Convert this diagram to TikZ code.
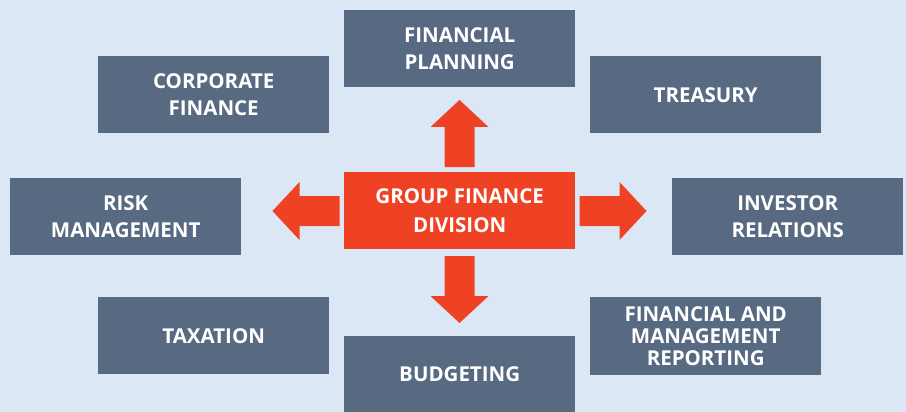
\documentclass[tikz,border=0pt]{standalone}
\usepackage{fontspec}
\setmainfont{Open Sans}
\definecolor{bgc}{RGB}{220,231,246}
\definecolor{boxc}{RGB}{88,105,130}
\definecolor{redc}{RGB}{239,65,35}
\begin{document}
\begin{tikzpicture}[x=1pt,y=-1pt,
  unit/.style={fill=boxc,text=white,font=\bfseries\fontsize{20.5}{27}\selectfont,
    align=center,minimum width=231pt,minimum height=77pt,inner sep=0pt,anchor=north west},
  hub/.style={unit,fill=redc,font=\bfseries\fontsize{20.5}{29}\selectfont},
  bigarrow/.style={fill=redc}]
\fill[bgc] (0,0) rectangle (906,412);
\useasboundingbox (0,0) rectangle (906,412);
\node[hub]  (gfd) at (344,172) {GROUP FINANCE\\DIVISION};
\node[unit] (fp)  at (344,10)  {FINANCIAL\\PLANNING};
\node[unit] (cf)  at (98,56)   {CORPORATE\\FINANCE};
\node[unit] (tr)  at (590,56)  {TREASURY};
\node[unit] (rm)  at (10,178)  {RISK\\MANAGEMENT};
\node[unit] (ir)  at (672,178) {INVESTOR\\RELATIONS};
\node[unit] (tx)  at (98,297)  {TAXATION};
\node[unit,minimum height=76pt] (bu) at (344,336) {BUDGETING};
\node[unit,minimum height=78pt,font=\bfseries\fontsize{20.5}{22}\selectfont] (fmr) at (590,297) {FINANCIAL AND\\MANAGEMENT\\REPORTING};
% arrows
\coordinate (c) at (459.5,211);
\fill[bigarrow] ([shift={(-15,-44)}]c) -- ([shift={(-15,-84)}]c) -- ([shift={(-29,-84)}]c)
  -- ([shift={(0,-111)}]c) -- ([shift={(29,-84)}]c) -- ([shift={(15,-84)}]c)
  -- ([shift={(15,-44)}]c) -- cycle;
\fill[bigarrow] ([shift={(-15,45)}]c) -- ([shift={(-15,85)}]c) -- ([shift={(-29,85)}]c)
  -- ([shift={(0,112)}]c) -- ([shift={(29,85)}]c) -- ([shift={(15,85)}]c)
  -- ([shift={(15,45)}]c) -- cycle;
\fill[bigarrow] ([shift={(-120,-15)}]c) -- ([shift={(-160,-15)}]c) -- ([shift={(-160,-29)}]c)
  -- ([shift={(-187,0)}]c) -- ([shift={(-160,29)}]c) -- ([shift={(-160,15)}]c)
  -- ([shift={(-120,15)}]c) -- cycle;
\fill[bigarrow] ([shift={(120,-15)}]c) -- ([shift={(160,-15)}]c) -- ([shift={(160,-29)}]c)
  -- ([shift={(187,0)}]c) -- ([shift={(160,29)}]c) -- ([shift={(160,15)}]c)
  -- ([shift={(120,15)}]c) -- cycle;
\end{tikzpicture}
\end{document}
